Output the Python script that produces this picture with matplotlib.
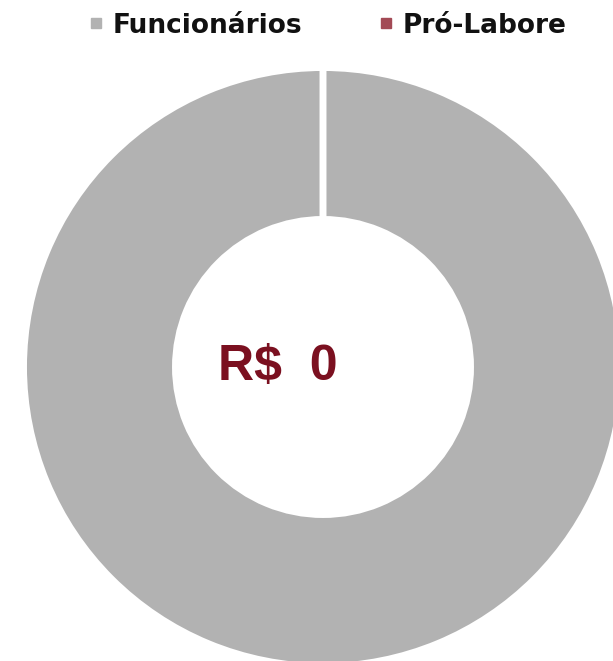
import matplotlib
matplotlib.use("Agg")
import matplotlib.pyplot as plt
from matplotlib.lines import Line2D

categories = ["Funcionários", "Pró-Labore"]
values = [100, 0]
colors = ["#b2b2b2", "#a34a55"]
center_label = "R$  0"

W, H = 613, 661
fig = plt.figure(figsize=(W / 100, H / 100), dpi=100)
ax = fig.add_axes([0, 0, 1, 1])
cx, cy, R = 323, 367, 299.5
ax.pie(values, colors=colors, startangle=90, counterclock=False, radius=1,
       wedgeprops=dict(width=152 / R, edgecolor="white", linewidth=5))
ax.set_xlim(-cx / R, (W - cx) / R)
ax.set_ylim(-(H - cy) / R, cy / R)
ax.set_aspect("auto")
ax.axis("off")

ax.text(-45 / R, -13 / R, center_label, ha="center", va="baseline", fontsize=36,
        fontweight="bold", color="#7b1020", family="Liberation Sans")

handles = [Line2D([], [], marker="s", linestyle="none", markersize=7.5,
                  markerfacecolor=c, markeredgecolor=c) for c in colors]
leg = fig.legend(handles, categories, loc="upper center", bbox_to_anchor=(0.532, 1.017),
                 ncol=2, frameon=False, handletextpad=0.25,
                 columnspacing=2.75, handlelength=0.8,
                 prop=dict(weight="bold", size=19, family="DejaVu Sans"))
for t in leg.get_texts():
    t.set_color("#111111")

fig.savefig("out.png", dpi=100)
